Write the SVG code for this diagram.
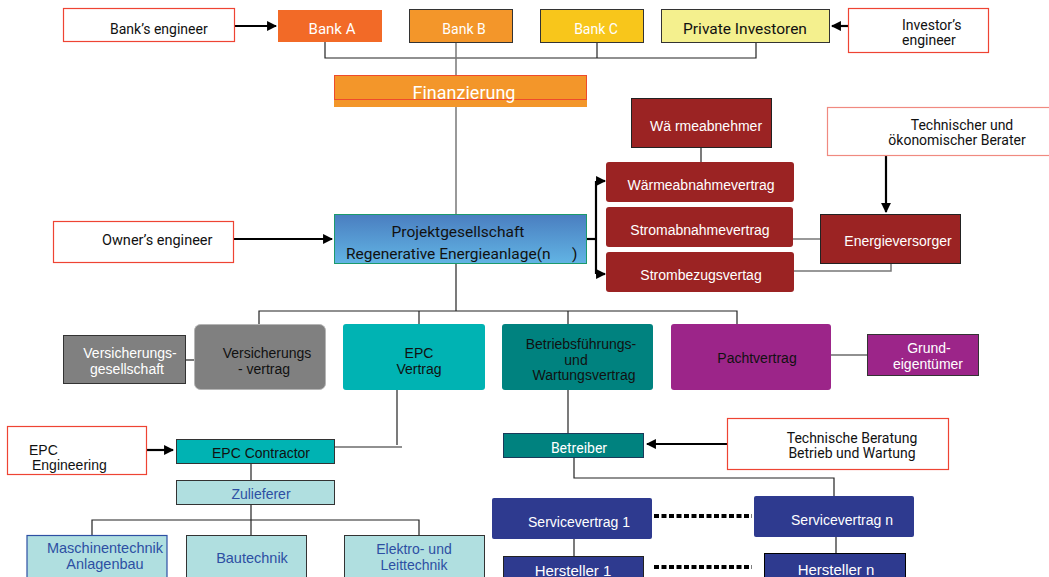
<svg xmlns="http://www.w3.org/2000/svg" width="1049" height="577" viewBox="0 0 1049 577">
<defs>
<style>
.r{font-family:Roboto,"Liberation Sans",sans-serif;font-size:14px;fill:#111}
.a{font-family:"Liberation Sans",Arial,sans-serif;font-size:14px;fill:#111}
.w{fill:#fff}
.m{text-anchor:middle}
.eng{fill:#fff;stroke:#EE4433;stroke-width:1.2}
.ln{stroke:#222;stroke-width:1.2;fill:none}
.lg{stroke:#777;stroke-width:1.5;fill:none}
.ar{stroke:#000;stroke-width:2.2;fill:none}
.dot{stroke:#000;stroke-width:4;stroke-dasharray:5 2.5;fill:none}
.dr{fill:#9B2323}
.bl{fill:#2E3A8F}
.lc{fill:#B0DFE0}
.bt{fill:#2D4FA3}
</style>
<marker id="ah" viewBox="0 0 10 10" refX="9" refY="5" markerWidth="4.5" markerHeight="4.5" orient="auto">
<path d="M0,0 L10,5 L0,10 z" fill="#000"/>
</marker>
<linearGradient id="pg" x1="0" y1="0" x2="0" y2="1">
<stop offset="0" stop-color="#4A7EC0"/>
<stop offset="1" stop-color="#62B4E4"/>
</linearGradient>
</defs>
<rect width="1049" height="577" fill="#fff"/>

<g id="connectors">
<polyline class="ln" points="325,42 325,58 756,58 756,42"/>
<line class="lg" x1="456" y1="42" x2="456" y2="75"/>
<line class="ln" x1="597" y1="42" x2="597" y2="58"/>
<line class="lg" x1="456" y1="100" x2="456" y2="214"/>
<line class="ar" x1="231" y1="26" x2="276" y2="26" marker-end="url(#ah)"/>
<line class="ar" x1="848" y1="26" x2="832" y2="26" marker-end="url(#ah)"/>
<line class="ar" x1="227" y1="239" x2="332" y2="239" marker-end="url(#ah)"/>
<line class="ar" x1="587" y1="239" x2="596" y2="239"/>
<line class="ar" x1="596" y1="181" x2="596" y2="274"/>
<line class="ar" x1="596" y1="181" x2="605" y2="181" marker-end="url(#ah)"/>
<line class="ar" x1="596" y1="274" x2="605" y2="274" marker-end="url(#ah)"/>
<line class="ln" x1="701" y1="147" x2="701" y2="162"/>
<line class="ar" x1="886" y1="156" x2="886" y2="212" marker-end="url(#ah)"/>
<line class="lg" x1="793" y1="239" x2="820" y2="239"/>
<polyline class="lg" points="794,271 891,271 891,263"/>
<line class="ln" x1="456" y1="263" x2="456" y2="311"/>
<polyline class="ln" points="259,324 259,311 737,311 737,324"/>
<line class="ln" x1="419" y1="311" x2="419" y2="324"/>
<line class="ln" x1="568" y1="311" x2="568" y2="324"/>
<line class="ln" x1="186" y1="360" x2="195" y2="360"/>
<line class="ln" x1="831" y1="355" x2="867" y2="355"/>
<polyline class="ln" points="397,390 397,445"/>
<line class="ln" x1="334" y1="447" x2="402" y2="447"/>
<line class="ar" x1="147" y1="450" x2="173" y2="450" marker-end="url(#ah)"/>
<line class="ln" x1="251" y1="463" x2="251" y2="480"/>
<line class="ln" x1="251" y1="504" x2="251" y2="536"/>
<polyline class="ln" points="92,536 92,520 419,520 419,536"/>
<line class="ln" x1="568" y1="390" x2="568" y2="433"/>
<line class="ar" x1="729" y1="444" x2="647" y2="444" marker-end="url(#ah)"/>
<polyline class="ln" points="574,458 574,478 834,478 834,496"/>
<line class="ln" x1="574" y1="539" x2="574" y2="556"/>
<line class="ln" x1="836" y1="537" x2="836" y2="554"/>
<line class="dot" x1="654" y1="516" x2="752" y2="516"/>
<line class="dot" x1="654" y1="567" x2="752" y2="567"/>
</g>

<g id="banks-engineer">
<rect class="eng" x="63.5" y="8.5" width="171" height="33"/>
<text class="r" x="110" y="34">Bank’s  engineer</text>
</g>
<g id="bank-a">
<rect x="278" y="10" width="104" height="32" fill="#F26A27"/>
<text class="r w m" x="332" y="34" style="font-size:15px">Bank A</text>
</g>
<g id="bank-b">
<rect x="409.5" y="9.5" width="103" height="33" fill="#F3962A" stroke="#333"/>
<text class="r w m" x="464" y="34">Bank B</text>
</g>
<g id="bank-c">
<rect x="540.5" y="9.5" width="103" height="33" fill="#F8C61B" stroke="#333"/>
<text class="r w m" x="596" y="34">Bank C</text>
</g>
<g id="private-investoren">
<rect x="661.5" y="9.5" width="168" height="33" fill="#F4F08E" stroke="#333"/>
<text class="r m" x="745" y="34" style="font-size:15.5px">Private Investoren</text>
</g>
<g id="investors-engineer">
<rect class="eng" x="848.5" y="8.5" width="140" height="44"/>
<text class="r" x="902" y="30">Investor’s</text>
<text class="r" x="902" y="45">engineer</text>
</g>
<g id="finanzierung">
<rect x="334" y="75" width="253" height="32" fill="#F3962A"/>
<rect x="334.5" y="75.5" width="252" height="24" fill="none" stroke="#EE4B2B" stroke-width="1"/>
<text class="r w m" x="464" y="99" style="font-size:18px">Finanzierung</text>
</g>
<g id="owners-engineer">
<rect class="eng" x="53.5" y="221.5" width="180" height="41"/>
<text class="r" x="102" y="245" style="font-size:14.5px">Owner’s  engineer</text>
</g>
<g id="projektgesellschaft">
<rect x="334.5" y="214.5" width="252" height="49" fill="url(#pg)" stroke="#1C9A6C"/>
<text class="r m" x="458" y="237" style="font-size:15.5px">Projektgesellschaft</text>
<text class="r" x="346" y="259" style="font-size:15.5px">Regenerative Energieanlage(n</text>
<text class="r" x="572" y="259" style="font-size:15.5px">)</text>
</g>
<g id="waermeabnehmer">
<rect class="dr" x="631.5" y="98.5" width="140" height="49" stroke="#222"/>
<text class="a w" x="650" y="131">Wä rmeabnehmer</text>
</g>
<g id="waermeabnahmevertrag">
<rect class="dr" x="606" y="162" width="188" height="40" rx="3"/>
<text class="a w m" x="701" y="190">Wärmeabnahmevertrag</text>
</g>
<g id="stromabnahmevertrag">
<rect class="dr" x="606" y="207" width="187" height="40" rx="3"/>
<text class="a w m" x="700" y="235">Stromabnahmevertrag</text>
</g>
<g id="strombezugsvertag">
<rect class="dr" x="606" y="252" width="188" height="40" rx="3"/>
<text class="a w m" x="701" y="280">Strombezugsvertag</text>
</g>
<g id="berater">
<rect x="827.5" y="107.5" width="230" height="48" fill="#fff" stroke="#F08A80" stroke-width="1.2"/>
<text class="r m" x="962" y="130">Technischer und</text>
<text class="r m" x="957" y="145">ökonomischer Berater</text>
</g>
<g id="energieversorger">
<rect class="dr" x="820.5" y="214.5" width="140" height="49" stroke="#222"/>
<text class="a w m" x="898" y="246">Energieversorger</text>
</g>
<g id="versicherungsgesellschaft">
<rect x="63.5" y="335.5" width="122" height="48" fill="#808080" stroke="#333"/>
<text class="a w m" x="130" y="358">Versicherungs-</text>
<text class="a w m" x="127" y="374">gesellschaft</text>
</g>
<g id="versicherungsvertrag">
<rect x="194.5" y="324.5" width="131" height="65" rx="6" fill="#808080" stroke="#B5B5B5"/>
<text class="a m" x="267" y="358">Versicherungs</text>
<text class="a m" x="264" y="374">- vertrag</text>
</g>
<g id="epc-vertrag">
<rect x="343" y="324" width="142" height="66" rx="3" fill="#00B3B3"/>
<text class="a m" x="419" y="358">EPC</text>
<text class="a m" x="419" y="374">Vertrag</text>
</g>
<g id="betriebsfuehrung">
<rect x="502" y="324" width="151" height="66" rx="3" fill="#00827F"/>
<text class="a m" x="581" y="349">Betriebsführungs-</text>
<text class="a m" x="576" y="365">und</text>
<text class="a m" x="584" y="380">Wartungsvertrag</text>
</g>
<g id="pachtvertrag">
<rect x="671" y="324" width="160" height="66" rx="3" fill="#9C2589"/>
<text class="a m" x="757" y="363">Pachtvertrag</text>
</g>
<g id="grundeigentuemer">
<rect x="867.5" y="334.5" width="111" height="41" fill="#9C2589" stroke="#333"/>
<text class="a w m" x="929" y="353">Grund-</text>
<text class="a w m" x="928" y="369">eigentümer</text>
</g>
<g id="epc-engineering">
<rect class="eng" x="7.5" y="426.5" width="139" height="48"/>
<text class="a" x="29" y="455">EPC</text>
<text class="a" x="32" y="470">Engineering</text>
</g>
<g id="epc-contractor">
<rect x="176.5" y="439.5" width="158" height="24" fill="#00B3B3" stroke="#333"/>
<text class="a m" x="261" y="458">EPC Contractor</text>
</g>
<g id="zulieferer">
<rect class="lc" x="176.5" y="480.5" width="158" height="24" stroke="#333"/>
<text class="a bt m" x="261" y="499">Zulieferer</text>
</g>
<g id="maschinentechnik">
<rect class="lc" x="27" y="535.5" width="140" height="50" stroke="#2D4FA3" stroke-width="1.2"/>
<text class="a bt m" x="105" y="553" style="font-size:14.5px">Maschinentechnik</text>
<text class="a bt m" x="105" y="569" style="font-size:14.5px">Anlagenbau</text>
</g>
<g id="bautechnik">
<rect class="lc" x="186.5" y="535.5" width="120" height="50" stroke="#333"/>
<text class="a bt m" x="252" y="563" style="font-size:14.5px">Bautechnik</text>
</g>
<g id="elektrotechnik">
<rect class="lc" x="344.5" y="535.5" width="140" height="50" stroke="#333"/>
<text class="a bt m" x="414" y="554">Elektro- und</text>
<text class="a bt m" x="414" y="570">Leittechnik</text>
</g>
<g id="betreiber">
<rect x="503.5" y="433.5" width="140" height="24" fill="#00827F" stroke="#1a3a5a"/>
<text class="r w m" x="579" y="453">Betreiber</text>
</g>
<g id="technische-beratung">
<rect class="eng" x="727.5" y="418.5" width="221" height="51"/>
<text class="r m" x="852" y="443">Technische Beratung</text>
<text class="r m" x="852" y="458">Betrieb und Wartung</text>
</g>
<g id="servicevertrag-1">
<rect class="bl" x="492" y="498" width="160" height="41" rx="2"/>
<text class="a w m" x="579" y="527">Servicevertrag 1</text>
</g>
<g id="servicevertrag-n">
<rect class="bl" x="754" y="496" width="160" height="41" rx="2"/>
<text class="a w m" x="842" y="525">Servicevertrag n</text>
</g>
<g id="hersteller-1">
<rect class="bl" x="503.5" y="556.5" width="140" height="30" stroke="#222"/>
<text class="a w m" x="573" y="576" style="font-size:15px">Hersteller 1</text>
</g>
<g id="hersteller-n">
<rect class="bl" x="764.5" y="553.5" width="141" height="30" stroke="#000"/>
<text class="a w m" x="836" y="575" style="font-size:15px">Hersteller n</text>
</g>
</svg>
